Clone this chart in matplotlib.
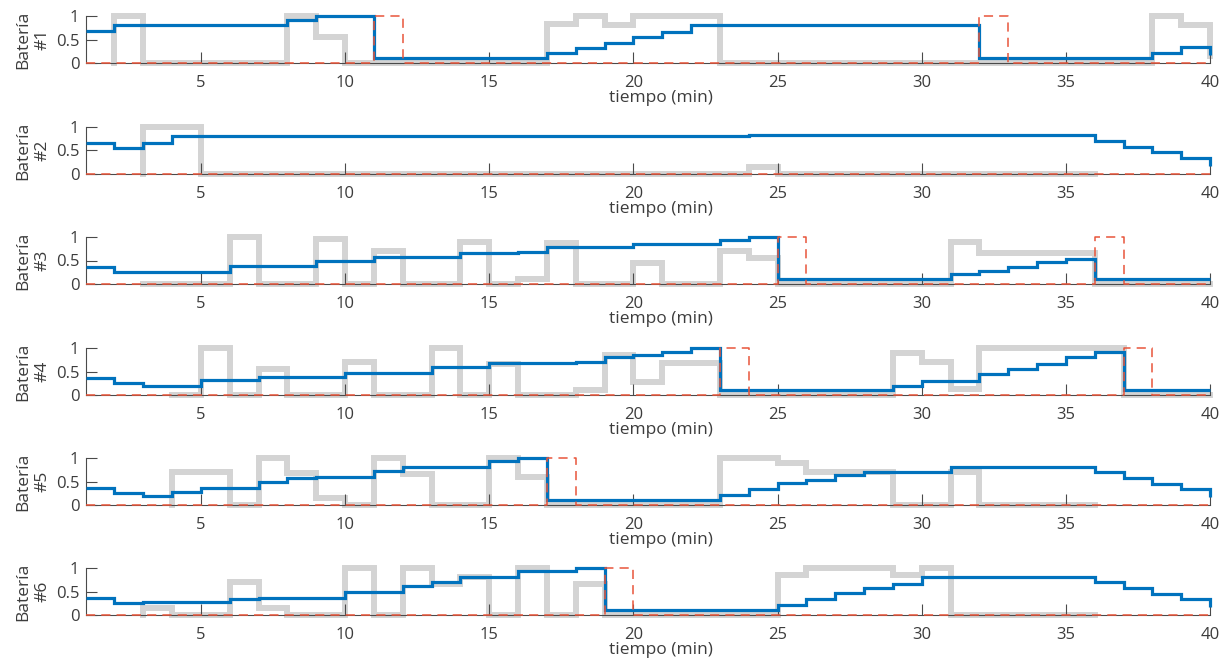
import numpy as np
import matplotlib
matplotlib.use("Agg")
import matplotlib.pyplot as plt

plt.rcParams['font.family'] = ['Open Sans', 'DejaVu Sans']

nan = float('nan')
t = np.arange(1, 41)

# ---- Battery 1 ----
blue1 = [0.68, 0.8, 0.8, 0.8, 0.8, 0.8, 0.8, 0.92, 1.0, 1.0,
         0.1, 0.1, 0.1, 0.1, 0.1, 0.1, 0.21, 0.32, 0.43, 0.55,
         0.67, 0.8, 0.8, 0.8, 0.8, 0.8, 0.8, 0.8, 0.8, 0.8,
         0.8, 0.1, 0.1, 0.1, 0.1, 0.1, 0.1, 0.21, 0.33, 0.18]
gray1 = [nan, 1.0, 0, 0, 0, 0, 0, 1.0, 0.55, 0,
         0, 0, 0, 0, 0, 0, 0.82, 1.0, 0.8, 1.0,
         1.0, 1.0, 0, 0, 0, 0, 0, 0, 0, 0,
         0, 0, 0, 0, 0, 0, 0, 1.0, 0.8, 0.15]
red1 = [0, 0, 0, 0, 0, 0, 0, 0, 0, 0,
        1, 0, 0, 0, 0, 0, 0, 0, 0, 0,
        0, 0, 0, 0, 0, 0, 0, 0, 0, 0,
        0, 1, 0, 0, 0, 0, 0, 0, 0, 0]

# ---- Battery 2 ----
blue2 = [0.67, 0.55, 0.67, 0.8, 0.8, 0.8, 0.8, 0.8, 0.8, 0.8,
         0.8, 0.8, 0.8, 0.8, 0.8, 0.8, 0.8, 0.8, 0.8, 0.8,
         0.8, 0.8, 0.8, 0.82, 0.82, 0.82, 0.82, 0.82, 0.82, 0.82,
         0.82, 0.82, 0.82, 0.82, 0.82, 0.7, 0.58, 0.46, 0.33, 0.17]
gray2 = [nan, nan, 1.0, 1.0, 0, 0, 0, 0, 0, 0,
         0, 0, 0, 0, 0, 0, 0, 0, 0, 0,
         0, 0, 0, 0.15, 0, 0, 0, 0, 0, 0,
         0, 0, 0, 0, 0, nan, nan, nan, nan, nan]
red2 = [0, 0, 0, 0, 0, 0, 0, 0, 0, 0,
        0, 0, 0, 0, 0, 0, 0, 0, 0, 0,
        0, 0, 0, 0, 0, 0, 0, 0, 0, 0,
        0, 0, 0, 0, 0, 0, 0, 0, 0, 0]

# ---- Battery 3 ----
blue3 = [0.37, 0.25, 0.25, 0.25, 0.25, 0.38, 0.38, 0.38, 0.5, 0.5,
         0.57, 0.57, 0.57, 0.67, 0.67, 0.69, 0.78, 0.78, 0.78, 0.85,
         0.85, 0.85, 0.93, 1.0, 0.1, 0.1, 0.1, 0.1, 0.1, 0.1,
         0.22, 0.28, 0.37, 0.46, 0.53, 0.1, 0.1, 0.1, 0.1, 0.1]
gray3 = [nan, nan, 0, 0, 0, 1.0, 0, 0, 0.95, 0,
         0.7, 0, 0, 0.9, 0, 0.1, 0.88, 0, 0, 0.45,
         0, 0, 0.7, 0.55, 0, 0, 0, 0, 0, 0,
         0.9, 0.67, 0.67, 0.67, 0.67, 0, 0, 0, 0, 0]
red3 = [0, 0, 0, 0, 0, 0, 0, 0, 0, 0,
        0, 0, 0, 0, 0, 0, 0, 0, 0, 0,
        0, 0, 0, 0, 1, 0, 0, 0, 0, 0,
        0, 0, 0, 0, 0, 1, 0, 0, 0, 0]

# ---- Battery 4 ----
blue4 = [0.37, 0.26, 0.2, 0.2, 0.32, 0.32, 0.38, 0.38, 0.38, 0.47,
         0.47, 0.47, 0.6, 0.6, 0.68, 0.68, 0.68, 0.7, 0.8, 0.85,
         0.92, 1.0, 0.1, 0.1, 0.1, 0.1, 0.1, 0.1, 0.2, 0.3,
         0.3, 0.45, 0.55, 0.67, 0.8, 0.92, 0.1, 0.1, 0.1, 0.1]
gray4 = [nan, nan, nan, 0, 1.0, 0, 0.55, 0, 0, 0.7,
         0, 0, 1.0, 0, 0.65, 0, 0, 0.1, 0.85, 0.28,
         0.68, 0.68, 0, 0, 0, 0, 0, 0, 0.9, 0.7,
         0.12, 1.0, 1.0, 1.0, 1.0, 1.0, 0, 0, 0, 0]
red4 = [0, 0, 0, 0, 0, 0, 0, 0, 0, 0,
        0, 0, 0, 0, 0, 0, 0, 0, 0, 0,
        0, 0, 1, 0, 0, 0, 0, 0, 0, 0,
        0, 0, 0, 0, 0, 0, 1, 0, 0, 0]

# ---- Battery 5 ----
blue5 = [0.37, 0.25, 0.19, 0.28, 0.37, 0.37, 0.5, 0.57, 0.59, 0.59,
         0.72, 0.8, 0.8, 0.8, 0.93, 1.0, 0.1, 0.1, 0.1, 0.1,
         0.1, 0.1, 0.22, 0.35, 0.46, 0.54, 0.64, 0.71, 0.71, 0.71,
         0.8, 0.8, 0.8, 0.8, 0.8, 0.71, 0.57, 0.45, 0.33, 0.16]
gray5 = [nan, nan, nan, 0.7, 0.7, 0, 1.0, 0.68, 0.15, 0,
         1.0, 0.65, 0, 0, 1.0, 0.6, 0, 0, 0, 0,
         0, 0, 1.0, 1.0, 0.9, 0.7, 0.7, 0.7, 0, 0,
         0.7, 0, 0, 0, 0, nan, nan, nan, nan, nan]
red5 = [0, 0, 0, 0, 0, 0, 0, 0, 0, 0,
        0, 0, 0, 0, 0, 0, 1, 0, 0, 0,
        0, 0, 0, 0, 0, 0, 0, 0, 0, 0,
        0, 0, 0, 0, 0, 0, 0, 0, 0, 0]

# ---- Battery 6 ----
blue6 = [0.37, 0.25, 0.28, 0.28, 0.28, 0.35, 0.37, 0.37, 0.37, 0.5,
         0.5, 0.62, 0.71, 0.8, 0.8, 0.93, 0.93, 1.0, 0.1, 0.1,
         0.1, 0.1, 0.1, 0.1, 0.21, 0.33, 0.46, 0.57, 0.67, 0.8,
         0.8, 0.8, 0.8, 0.8, 0.8, 0.71, 0.57, 0.45, 0.33, 0.16]
gray6 = [nan, nan, 0.15, 0, 0, 0.7, 0.15, 0, 0, 1.0,
         0, 1.0, 0.65, 0.8, 0, 1.0, 0, 0.65, 0, 0,
         0, 0, 0, 0, 0.85, 1.0, 1.0, 1.0, 0.85, 1.0,
         0, 0, 0, 0, 0, nan, nan, nan, nan, nan]
red6 = [0, 0, 0, 0, 0, 0, 0, 0, 0, 0,
        0, 0, 0, 0, 0, 0, 0, 0, 1, 0,
        0, 0, 0, 0, 0, 0, 0, 0, 0, 0,
        0, 0, 0, 0, 0, 0, 0, 0, 0, 0]

ylabels = ['Batería\n#1', 'Batería\n#2', 'Batería\n#3',
           'Batería\n#4', 'Batería\n#5', 'Batería\n#6']
xlabel = 'tiempo (min)'
xticks = [5, 10, 15, 20, 25, 30, 35, 40]
yticks = [0, 0.5, 1]
yticklabels = ['0', '0.5', '1']

blues = [blue1, blue2, blue3, blue4, blue5, blue6]
grays = [gray1, gray2, gray3, gray4, gray5, gray6]
reds = [red1, red2, red3, red4, red5, red6]

W, H = 1221, 664
fig = plt.figure(figsize=(W / 100, H / 100), dpi=100)

ax_left = 85.6
ax_right = 1210.0
tops = [16, 127, 237, 348, 458, 568]
ax_h = 47

C_GRAY = '#D4D4D4'
C_BLUE = '#0072BD'
C_RED = '#E8553A'
C_AX = '#4A4A4A'
C_TXT = '#3C3C3C'


def gray_path(tt, g):
    g = np.asarray(g, dtype=float)
    k = np.flatnonzero(~np.isnan(g))[0]
    xs = np.concatenate([[tt[k]], tt[k:]])
    ys = np.concatenate([[0.0], g[k:]])
    return xs, ys


for i in range(6):
    ax = fig.add_axes([ax_left / W, 1 - (tops[i] + ax_h) / H,
                       (ax_right - ax_left) / W, ax_h / H])
    gx, gy = gray_path(t, grays[i])
    ax.step(gx, gy, where='post', color=C_GRAY, lw=4.3, zorder=1,
            clip_on=False, solid_capstyle='projecting', solid_joinstyle='miter')
    ax.step(t, blues[i], where='post', color=C_BLUE, lw=2.3, zorder=3,
            clip_on=False, solid_capstyle='butt', solid_joinstyle='miter')
    ax.step(t, reds[i], where='post', color=C_RED, lw=1.1, zorder=4,
            clip_on=False, linestyle=(0, (6, 4)), dash_capstyle='butt')

    ax.set_xlim(1, 40)
    ax.set_ylim(0, 1)
    for s in ['top', 'right']:
        ax.spines[s].set_visible(False)
    for s in ['left', 'bottom']:
        ax.spines[s].set_color(C_AX)
        ax.spines[s].set_linewidth(0.8)
    ax.spines['bottom'].set_zorder(2)

    ax.set_xticks(xticks)
    ax.set_xticklabels([str(v) for v in xticks])
    ax.set_yticks(yticks)
    ax.set_yticklabels(yticklabels)
    ax.tick_params(axis='both', direction='in', length=8, width=0.8,
                   color=C_AX, labelcolor=C_TXT, labelsize=12)
    ax.tick_params(axis='x', pad=8.5)
    ax.tick_params(axis='y', pad=4.5)
    ax.patch.set_alpha(0)

    ax.set_xlabel(xlabel, fontsize=12.5, color=C_TXT, va='center')
    ax.xaxis.set_label_coords(0.512, -35 / ax_h)
    ax.set_ylabel(ylabels[i], fontsize=12.5, color=C_TXT, va='center',
                  ha='center', linespacing=1.3)
    ax.yaxis.set_label_coords((33 - ax_left) / (ax_right - ax_left), 0.5)

fig.savefig('out.png', dpi=100)
